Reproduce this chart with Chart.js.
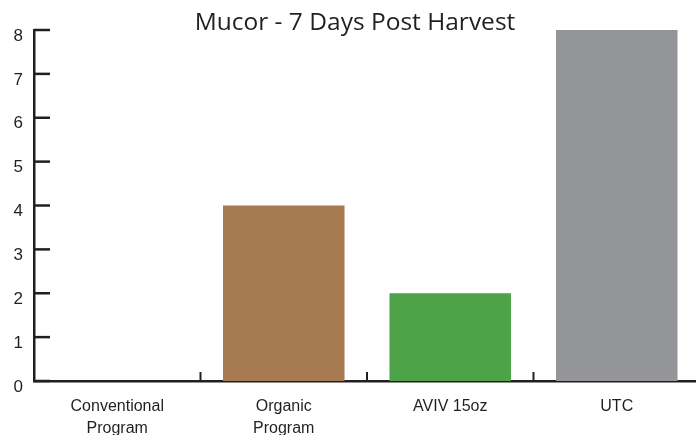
<!DOCTYPE html>
<html>
<head>
<meta charset="utf-8">
<script src="https://cdn.jsdelivr.net/npm/chart.js@4/dist/chart.umd.min.js"></script>
<style>
html,body{margin:0;padding:0;background:#fff;overflow:hidden;}
#wrap{width:700px;height:435px;position:relative;}
</style>
</head>
<body>
<div id="wrap"><canvas id="c"></canvas></div>
<script>
const titleText = "Mucor - 7 Days Post Harvest";
const categories = [["Conventional","Program"],["Organic","Program"],"AVIV 15oz","UTC"];
const values = [0, 4, 2, 8];
const barColors = ["#A67B51", "#A67B51", "#4EA247", "#939598"];
const yTicks = [0,1,2,3,4,5,6,7,8];

const axisColor = "#231f20";
const labelFont = "'Liberation Sans Narrow','Arial Narrow','Liberation Sans',Arial,sans-serif";

const customMarks = {
  id: 'customMarks',
  afterDraw(chart) {
    const ctx = chart.ctx;
    const ca = chart.chartArea;
    const ys = chart.scales.y, xs = chart.scales.x;
    ctx.save();
    ctx.strokeStyle = axisColor;
    ctx.lineWidth = 2.5;
    ctx.lineCap = 'butt';
    yTicks.forEach(v => {
      const py = ys.getPixelForValue(v);
      ctx.beginPath();
      ctx.moveTo(ca.left, py);
      ctx.lineTo(ca.left + 16, py);
      ctx.stroke();
    });
    ctx.lineWidth = 2;
    for (let i = 1; i < categories.length; i++) {
      const px = (xs.getPixelForValue(i - 1) + xs.getPixelForValue(i)) / 2;
      ctx.beginPath();
      ctx.moveTo(px, ca.bottom);
      ctx.lineTo(px, ca.bottom - 9);
      ctx.stroke();
    }
    ctx.fillStyle = axisColor;
    ctx.font = "24.5px 'Open Sans', sans-serif";
    ctx.textAlign = 'center';
    ctx.textBaseline = 'middle';
    ctx.fillText(titleText, 355, 23);
    ctx.restore();
  }
};

new Chart(document.getElementById('c'), {
  type: 'bar',
  data: {
    labels: categories,
    datasets: [{
      data: values,
      backgroundColor: barColors,
      borderWidth: 0,
      barPercentage: 0.73,
      categoryPercentage: 1.0
    }]
  },
  options: {
    responsive: true,
    maintainAspectRatio: false,
    animation: false,
    layout: { padding: { top: 30, right: 0, left: 0, bottom: 0 } },
    plugins: { legend: { display: false }, title: { display: false }, tooltip: { enabled: false } },
    scales: {
      x: {
        grid: { display: false, drawTicks: false },
        border: { display: true, color: axisColor, width: 2.5 },
        ticks: { color: axisColor, font: { family: labelFont, size: 16, lineHeight: 1.4 }, padding: 14, maxRotation: 0, autoSkip: false },
        afterFit(s) { s.height = 54; }
      },
      y: {
        min: 0, max: 8,
        afterBuildTicks(s) { s.ticks = yTicks.map(v => ({ value: v })); },
        grid: { display: false, drawTicks: false },
        border: { display: true, color: axisColor, width: 2.5 },
        ticks: { color: axisColor, font: { family: labelFont, size: 17 }, padding: 11, labelOffset: 6 },
        afterFit(s) { s.width = 34; }
      }
    }
  },
  plugins: [customMarks]
});
</script>
</body>
</html>
